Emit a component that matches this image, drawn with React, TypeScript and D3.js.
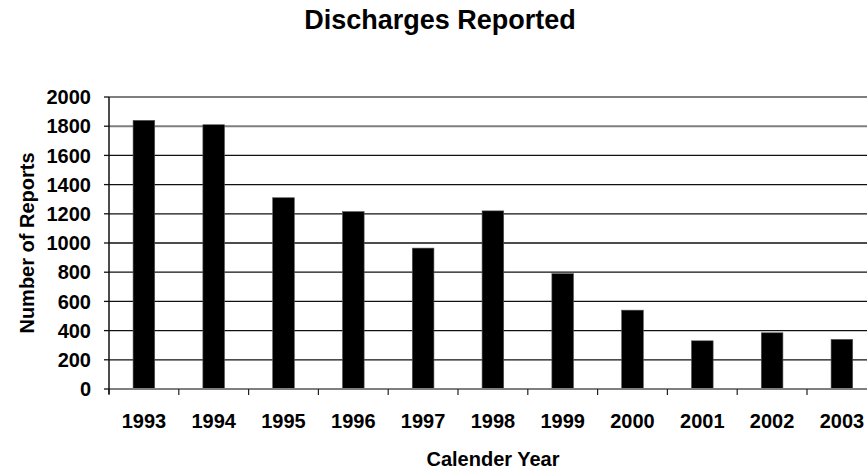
import React from "react";
import * as d3 from "d3";

// Discharges reported per calendar year
const years = ["1993", "1994", "1995", "1996", "1997", "1998", "1999", "2000", "2001", "2002", "2003"];
const reports = [1840, 1810, 1310, 1215, 965, 1220, 790, 540, 330, 385, 340];
const yTicks = [0, 200, 400, 600, 800, 1000, 1200, 1400, 1600, 1800, 2000];

const W = 867;
const H = 471;
const left = 109;
const top = 97;
const bottom = 389;
const band = 69.8;
const font = "Arial, 'Liberation Sans', Helvetica, sans-serif";

export default function App() {
  const x = d3.scaleBand<string>().domain(years).range([left, left + band * years.length]).padding(0);
  const y = d3.scaleLinear().domain([0, 2000]).range([bottom, top]);
  const bw = x.bandwidth() * 0.31;

  return (
    <svg
      width={W}
      height={H}
      viewBox={`0 0 ${W} ${H}`}
      style={{ position: "absolute", left: 0, top: 0, background: "#fff" }}
      fontFamily={font}
      fontWeight="bold"
    >
      <rect x={0} y={0} width={W} height={H} fill="#fff" />
      <text x={440} y={29} textAnchor="middle" fontSize={27}>
        Discharges Reported
      </text>

      {/* gridlines */}
      {yTicks.filter((t) => t > 0).map((t) => (
        <line
          key={t}
          x1={left}
          x2={W}
          y1={y(t)}
          y2={y(t)}
          stroke={t >= 1800 ? "#7f7f7f" : "#111"}
          strokeWidth={t >= 1800 ? 2 : 1.3}
        />
      ))}

      {/* bars */}
      {years.map((yr, i) => (
        <rect
          key={yr}
          x={(x(yr) as number) + (x.bandwidth() - bw) / 2}
          y={y(reports[i])}
          width={bw}
          height={y(0) - y(reports[i])}
          fill="#000"
          stroke="#555"
          strokeWidth={0.6}
        />
      ))}

      {/* x axis */}
      <line x1={left} x2={W} y1={y(0)} y2={y(0)} stroke="#7f7f7f" strokeWidth={2} />
      {years.map((yr) => (
        <line
          key={"t" + yr}
          x1={x(yr) as number}
          x2={x(yr) as number}
          y1={y(0)}
          y2={y(0) + 6}
          stroke="#222"
          strokeWidth={1.2}
        />
      ))}
      {years.map((yr) => (
        <text
          key={"l" + yr}
          x={(x(yr) as number) + x.bandwidth() / 2}
          y={428}
          textAnchor="middle"
          fontSize={20}
        >
          {yr}
        </text>
      ))}

      {/* y axis */}
      <line x1={left} x2={left} y1={top} y2={y(0) + 5} stroke="#111" strokeWidth={1.5} />
      {yTicks.map((t) => (
        <g key={"y" + t}>
          <line x1={left - 5} x2={left} y1={y(t)} y2={y(t)} stroke="#111" strokeWidth={1.3} />
          <text x={91} y={y(t)} dy="0.36em" textAnchor="end" fontSize={20}>
            {t}
          </text>
        </g>
      ))}

      <text x={493} y={466} textAnchor="middle" fontSize={20}>
        Calender Year
      </text>
      <text transform={`translate(34,${243}) rotate(-90)`} textAnchor="middle" fontSize={20}>
        Number of Reports
      </text>
    </svg>
  );
}
